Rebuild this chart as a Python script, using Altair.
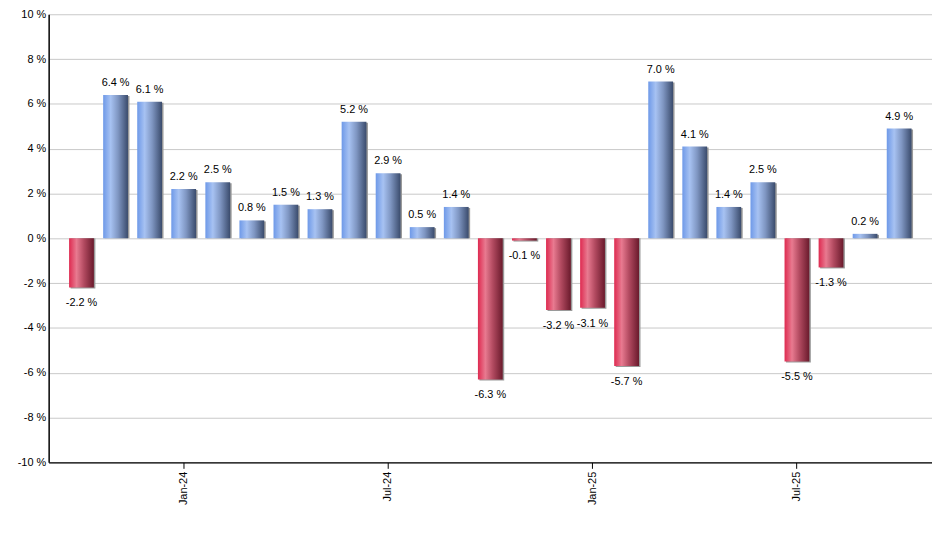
import altair as alt
import pandas as pd

months = ["Oct-23", "Nov-23", "Dec-23", "Jan-24", "Feb-24", "Mar-24", "Apr-24", "May-24",
          "Jun-24", "Jul-24", "Aug-24", "Sep-24", "Oct-24", "Nov-24", "Dec-24", "Jan-25",
          "Feb-25", "Mar-25", "Apr-25", "May-25", "Jun-25", "Jul-25", "Aug-25", "Sep-25", "Oct-25"]
values = [-2.2, 6.4, 6.1, 2.2, 2.5, 0.8, 1.5, 1.3, 5.2, 2.9, 0.5, 1.4, -6.3, -0.1,
          -3.2, -3.1, -5.7, 7.0, 4.1, 1.4, 2.5, -5.5, -1.3, 0.2, 4.9]
tick_labels = ["Jan-24", "Jul-24", "Jan-25", "Jul-25"]
y_ticks = [-10, -8, -6, -4, -2, 0, 2, 4, 6, 8, 10]

df = pd.DataFrame({"month": months, "value": values})
df["label"] = [f"{v:.1f} %" for v in values]

FONT = "Liberation Sans"

xenc = alt.X("month:N", sort=months,
             scale=alt.Scale(paddingInner=0.272, paddingOuter=0.6),
             axis=alt.Axis(values=tick_labels, title=None, labelAngle=270,
                           labelAlign="right", labelBaseline="middle",
                           labelFont=FONT, labelFontSize=11, labelColor="#000",
                           domainColor="#000", domainWidth=1.5, tickColor="#000",
                           tickSize=6, labelPadding=3, grid=False))
yenc = alt.Y("value:Q", scale=alt.Scale(domain=[-10, 10], nice=False),
             axis=alt.Axis(values=y_ticks, title=None,
                           labelExpr="datum.value + ' %'",
                           labelFont=FONT, labelFontSize=11, labelColor="#000",
                           domainColor="#000", domainWidth=1.5, tickSize=0,
                           labelPadding=3, gridColor="#c8c8c8", gridWidth=1))

blue = alt.Gradient(gradient="linear", x1=0, x2=1, y1=0, y2=0, stops=[
    alt.GradientStop(color="#6e99e8", offset=0),
    alt.GradientStop(color="#a7c2f2", offset=0.3),
    alt.GradientStop(color="#7f96c2", offset=0.6),
    alt.GradientStop(color="#3a4b6c", offset=1)])
red = alt.Gradient(gradient="linear", x1=0, x2=1, y1=0, y2=0, stops=[
    alt.GradientStop(color="#de2a50", offset=0),
    alt.GradientStop(color="#e87a90", offset=0.3),
    alt.GradientStop(color="#b24a60", offset=0.6),
    alt.GradientStop(color="#6a1a2c", offset=1)])

base = alt.Chart(df)

shadow = base.mark_bar(color="#9a9a9a", xOffset=1.5, yOffset=1).encode(
    x=xenc, y=alt.Y("value:Q"), y2=alt.datum(0))
pos = base.transform_filter("datum.value >= 0").mark_bar(color=blue).encode(
    x=xenc, y=yenc, y2=alt.datum(0))
neg = base.transform_filter("datum.value < 0").mark_bar(color=red).encode(
    x=xenc, y=yenc, y2=alt.datum(0))

lab_pos = base.transform_filter("datum.value >= 0").mark_text(
    font=FONT, fontSize=11, color="#000", baseline="alphabetic", dy=-9).encode(
    x=xenc, y=yenc, text="label:N")
lab_neg = base.transform_filter("datum.value < 0").mark_text(
    font=FONT, fontSize=11, color="#000", baseline="top", dy=10).encode(
    x=xenc, y=yenc, text="label:N")

chart = alt.layer(shadow, pos, neg, lab_pos, lab_neg).properties(
    width=891, height=452,
    autosize=alt.AutoSizeParams(type="none"),
    padding={"left": 41, "top": 4, "right": 0, "bottom": 78},
).configure_view(stroke=None)

chart.save("out.html", embed_options={"renderer": "svg", "actions": False})
